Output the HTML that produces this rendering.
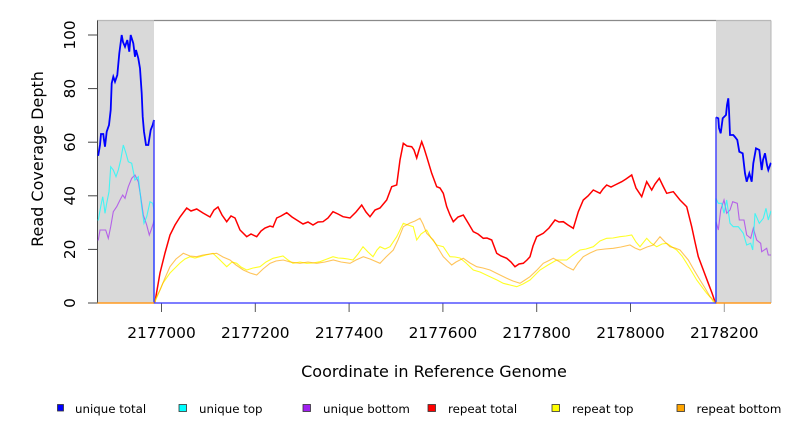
<!DOCTYPE html>
<html>
<head>
<meta charset="utf-8">
<style>
html,body{margin:0;padding:0;background:#fff;}
svg{display:block;}
text{font-family:"DejaVu Sans","Liberation Sans",sans-serif;fill:#000;}
</style>
</head>
<body>
<svg width="792" height="432" viewBox="0 0 792 432" xmlns="http://www.w3.org/2000/svg">
<rect x="0" y="0" width="792" height="432" fill="#fff"/>

<!-- grey regions -->
<rect x="97" y="20.5" width="57" height="282.5" fill="#d9d9d9"/>
<rect x="716" y="20.5" width="55" height="282.5" fill="#d9d9d9"/>
<!-- top frame -->
<line x1="154" y1="20.5" x2="716" y2="20.5" stroke="#8a8a8a" stroke-width="1.2"/>
<line x1="97" y1="20.5" x2="154" y2="20.5" stroke="#b8b8b8" stroke-width="1.2"/>
<line x1="716" y1="20.5" x2="771" y2="20.5" stroke="#b8b8b8" stroke-width="1.2"/>
<line x1="771" y1="20.5" x2="771" y2="303" stroke="#b5b5b5" stroke-width="1"/>

<!-- y axis -->
<g stroke="#444" stroke-width="1">
<line x1="97.5" y1="20.5" x2="97.5" y2="303"/>
<line x1="88" y1="303" x2="97.5" y2="303"/>
<line x1="88" y1="249.4" x2="97.5" y2="249.4"/>
<line x1="88" y1="195.8" x2="97.5" y2="195.8"/>
<line x1="88" y1="142.2" x2="97.5" y2="142.2"/>
<line x1="88" y1="88.6" x2="97.5" y2="88.6"/>
<line x1="88" y1="35" x2="97.5" y2="35"/>
</g>
<g font-size="15.3" text-anchor="middle">
<text transform="translate(75,303) rotate(-90)">0</text>
<text transform="translate(75,249.4) rotate(-90)">20</text>
<text transform="translate(75,195.8) rotate(-90)">40</text>
<text transform="translate(75,142.2) rotate(-90)">60</text>
<text transform="translate(75,88.6) rotate(-90)">80</text>
<text transform="translate(75,35) rotate(-90)">100</text>
</g>

<!-- x axis -->
<g stroke="#555" stroke-width="1">
<line x1="161.5" y1="303" x2="161.5" y2="312"/>
<line x1="255.3" y1="303" x2="255.3" y2="312"/>
<line x1="349.1" y1="303" x2="349.1" y2="312"/>
<line x1="442.9" y1="303" x2="442.9" y2="312"/>
<line x1="536.7" y1="303" x2="536.7" y2="312"/>
<line x1="630.5" y1="303" x2="630.5" y2="312"/>
<line x1="724.3" y1="303" x2="724.3" y2="312" stroke="#999"/>
</g>
<g font-size="15.4" text-anchor="middle">
<text x="161.5" y="338">2177000</text>
<text x="255.3" y="338">2177200</text>
<text x="349.1" y="338">2177400</text>
<text x="442.9" y="338">2177600</text>
<text x="536.7" y="338">2177800</text>
<text x="630.5" y="338">2178000</text>
<text x="724.3" y="338">2178200</text>
</g>

<text x="434" y="377" font-size="16" text-anchor="middle">Coordinate in Reference Genome</text>
<text transform="translate(43,159) rotate(-90)" font-size="16" text-anchor="middle">Read Coverage Depth</text>

<!-- series -->
<g fill="none" stroke-linejoin="miter">
<!-- unique bottom -->
<polyline stroke="#a020f0" stroke-opacity="0.65" stroke-width="1.1" points="97.5,240 98.3,240 100,230 103.3,230 105.7,230 108.3,238.3 110.7,226.7 113.3,211.7 116.7,206.7 120,200 122.7,195 125,198.3 128.3,186.7 131.7,178.3 135,175 138.3,181.7 140.7,196.7 143.3,215 146.7,225 149.3,235 151.7,228.3 153.3,223.3 154,220 154,303"/>
<polyline stroke="#a020f0" stroke-opacity="0.65" stroke-width="1.1" points="716,303 716,221.7 718.3,230 720.7,210 724,200 726.7,213.3 730,210 732.7,201.7 737.3,203.3 739.3,220 744,220 746.7,235 750.7,238.3 753.3,228.3 756.7,240 760.7,243.3 761.7,251.7 766.7,248.3 768.3,255 771,255"/>
<!-- unique top -->
<polyline stroke="#00ffff" stroke-opacity="0.7" stroke-width="1.1" points="97.5,220 98.3,220 100.7,206.7 102.7,196.7 104,205 105,213.3 106.7,203.3 109,191.7 110.7,166.7 113.3,170 116,176.7 118.3,170 120.7,160 123.3,145 126,153.3 128.3,161.7 131.7,163.3 135,180 138.3,176.7 141.7,206.7 144,223.3 146.7,216.7 150,201.7 152.7,203.3 154,210 154,303"/>
<polyline stroke="#00ffff" stroke-opacity="0.7" stroke-width="1.1" points="716,303 716,198.3 718.3,203.3 721.7,203.3 724,213.3 726.7,200 730,223.3 733.3,226.7 738.3,226.7 743.3,233.3 746.7,245 750.7,243.3 752.7,250 755,213.3 759.3,223.3 763.3,218.3 766,208.3 768.3,220 770.7,211.7 771,212"/>
<!-- repeat total -->
<polyline stroke="#ff0000" stroke-width="1.5" points="154,303 155,301.7 160,273 165,253 170,235 175,225 180,217 186.7,208 191,211 196.7,209 203,213 210,217 214,210 218,207 222,215 226.7,221.7 231,216 235,218 240,230 246.7,236.7 251,234 256.7,236.7 261,231 265,228 270,226 273,227 276.7,218 281,216 286.7,212.7 292,217 296.7,220 303,224 308,222 313,225 318,222 323,221.7 328,218 333,211.7 338,214 343,216.7 350,218 356,212 361.7,205 366,212 370,216.7 375,210 380,208 386.7,200 391.7,186.7 396.7,185 400,160 403.3,143.3 407,146 411.7,146.7 414,150 416.7,158 419,150 421.7,141.7 424,148 426.7,156.7 431.7,173.3 436.7,186.7 440,188 443.3,193.3 446.7,206.7 450,215 453.3,221.7 458,217 463.3,215 468.3,223.3 473.3,231.7 478,234 483.3,238.3 487,238 491.7,240 496.7,253.3 501,256 506.7,258.3 511,262 515,266.7 519,264 523.3,263.3 527,260 530,256.7 533,246 536.7,236.7 543.3,233.3 549,228 555,220 559,222 563.3,221.7 568,225 573.3,228.3 578.3,211.7 583.3,200 588,196 593.3,190 600,193.3 603,189 606.7,185 611,187 615,185 621.7,181.7 626,179 631.7,175 636,188 641.7,196.7 646.7,181.7 651.7,190 655,184 659.3,178.3 663,186 666.7,193.3 673.3,191.7 680,200 686.7,206.7 691.7,226.7 695,242 698.3,256.7 703.3,270 708.3,283.3 712,293 715,301.7 716,303"/>
<!-- repeat top -->
<polyline stroke="#ffff00" stroke-opacity="0.85" stroke-width="1.1" points="154,303 155,301.7 160,290 163,283 170,273 175,268 180,263 185,259 190,256.7 195,258 200,256.7 206,255 213,253.3 220,260 226.7,266.7 232,262 236.7,263.3 241,267 246.7,270 253,268 260,266.7 266,262 273,258.3 283,256 288,260 293,263.3 300,262 306.7,263.3 313,263 320,261.7 327,259 333,256.7 338,258 343,258.3 348,259 353,260 358,254 363,246.7 368,252 373,256.7 377,250 380,246.7 385,249 390,246.7 396.7,236.7 403.3,223.3 408,225 413.3,226.7 416.7,240 421,234 426.7,230 431,238 436.7,245 443.3,246.7 450,256.7 455,257 460,258 466,263 473.3,270 480,272 490,276.7 497,280 503.3,283.3 510,285 516.7,286.7 523,284 530,280 535,275 540,270 548,265 556.7,260 566.7,260 573,255 580,250 586,249 593.3,246.7 600,241 606.7,238.3 613,238 620,236.7 626,236 631.7,235 636,242 640,246.7 646.7,238.3 651,243 656.7,246.7 662,244 666.7,243.3 672,247 676.7,250 682,256 686.7,263.3 692,272 696.7,280 702,287 706.7,293.3 711,298 713.3,301.7 716,303"/>
<!-- repeat bottom -->
<polyline stroke="#ffa500" stroke-opacity="0.65" stroke-width="1.1" points="154,303 155,300 160,290 165,278 170,266.7 176,259 183.3,253.3 190,256 196.7,256.7 203,255 210,254 216.7,253.3 223,257 230,260 236,265 243.3,270 250,273 256.7,275 263,269 270,263.3 276,261 283.3,260 290,262 300,263.3 308,262 316.7,263.3 325,262 333.3,260 341,262 350,263.3 356,260 363.3,256.7 370,259 380,263.3 386,257 393.3,250 398,240 403.3,226.7 410,223 415,221 420,218.3 423,224 426.7,233.3 433.3,240 438,248 443.3,256.7 451.7,265 456,262 463.3,258.3 470,263 476.7,266.7 483,268 490,270 498,274 506.7,278.3 513,281 520,283.3 525,280 530,276.7 537,270 543.3,263.3 548,261 553.3,258.3 560,262 566.7,266.7 573.3,270 578,263 583.3,256.7 590,253 596.7,250 605,249 613.3,248.3 621,247 630,245 635,248 640,250 647,247 653.3,245 660,236.7 665,242 670,246.7 675,248 680,250 688.3,260 694,270 700,280 705,288 710,296.7 715,301.7 716,303"/>
<!-- unique total -->
<polyline stroke="#0000ff" stroke-width="1.8" points="97.5,155 98.3,155 100,145 101,134 103.3,134 104,140 105,146.7 106.7,131.7 109,125 110.7,110 111.7,83.3 113.3,76.7 115,81.7 117.3,75 119.3,53.3 121.7,35 123,42 125,46.7 127.3,40 129.3,51.7 130.7,35 133.3,43.3 135,56.7 136,50 138.3,58.3 140,68.3 141.7,93.3 142.7,116.7 144,131.7 146,145 148.3,145 150.7,130 152.7,125 154,120"/>
<polyline stroke="#0000ff" stroke-width="1.8" points="716,117.3 718.3,118.3 719,128 720.7,133.3 722.7,118.3 726,115 727,105 728.3,98.3 729,110 730,135 733.3,135 735,137 737.3,140 739.3,151.7 742.7,153.3 745,173.3 746.7,181.7 749.3,173.3 751.7,181.7 753.3,163.3 756,148.3 759.3,150 761.7,170 763,160 765,153.3 767,165 768.3,170 770.7,163.3 771,163"/>
<polyline stroke="#3535ff" stroke-opacity="0.85" stroke-width="1.6" points="154,120 154,303 716,303 716,117.3"/>
<!-- orange zero lines in grey regions -->
<line x1="97.5" y1="303" x2="154" y2="303" stroke="#ff9a20" stroke-width="1.4"/>
<line x1="716" y1="303" x2="771" y2="303" stroke="#ff9a20" stroke-width="1.4"/>
</g>

<!-- legend -->
<g stroke="#333" stroke-width="0.8">
<rect x="57.5" y="404.5" width="6" height="6.5" fill="#0000ff"/>
<rect x="179" y="404.5" width="7.5" height="7" fill="#00ffff"/>
<rect x="303" y="404.5" width="7.5" height="7" fill="#a020f0"/>
<rect x="428" y="404.5" width="7.5" height="7" fill="#ff0000"/>
<rect x="552" y="404.5" width="7.5" height="7" fill="#ffff00"/>
<rect x="677" y="404.5" width="7.5" height="7" fill="#ffa500"/>
</g>
<g font-size="11.8">
<text x="75" y="413">unique total</text>
<text x="199" y="413">unique top</text>
<text x="323" y="413">unique bottom</text>
<text x="448" y="413">repeat total</text>
<text x="572" y="413">repeat top</text>
<text x="696.5" y="413">repeat bottom</text>
</g>
</svg>
</body>
</html>
